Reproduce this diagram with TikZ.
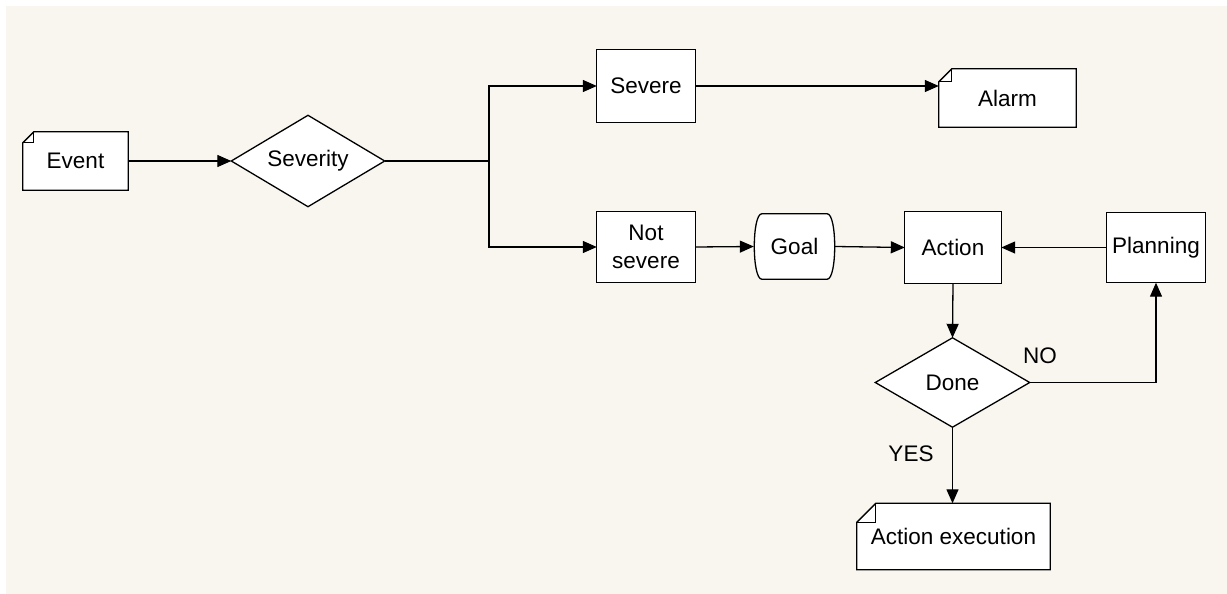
\documentclass[tikz,border=0pt]{standalone}
\usepackage{fontspec}
\setmainfont{Liberation Sans}
\usetikzlibrary{arrows.meta}
\pgfdeclarelayer{bg}
\pgfdeclarelayer{shapes}
\pgfsetlayers{bg,shapes,main}
\definecolor{paper}{HTML}{F9F6F0}
\tikzset{
  outline/.style={draw=black, line width=1.3pt, fill=white, line join=miter},
  txt/.style={font=\fontsize{22.5}{28}\selectfont, align=center, inner sep=0pt, text=black},
  box/.style={txt, rectangle, draw=none},
  wire/.style={draw=black, line width=1.3pt},
  arrow/.style={wire, -{Triangle[length=14pt,width=12pt]}},
  lbl/.style={font=\fontsize{22.5}{26}\selectfont, inner sep=0pt},
}
% box with the top-left corner folded over
\newcommand\drawnote[2]{%
  \begin{pgfonlayer}{shapes}
    \path[outline] ([xshift=#2]#1.north west) -- (#1.north east) -- (#1.south east)
      -- (#1.south west) -- ([yshift=-#2]#1.north west) -- cycle;
    \draw[outline, fill=none] ([yshift=-#2]#1.north west) -- ([xshift=#2,yshift=-#2]#1.north west)
      -- ([xshift=#2]#1.north west);
  \end{pgfonlayer}}
% plain rectangle
\newcommand\drawrect[1]{%
  \begin{pgfonlayer}{shapes}
    \path[outline] (#1.north west) rectangle (#1.south east);
  \end{pgfonlayer}}
% decision diamond
\newcommand\drawdiamond[1]{%
  \begin{pgfonlayer}{shapes}
    \path[outline] (#1.west) -- (#1.north) -- (#1.east) -- (#1.south) -- cycle;
  \end{pgfonlayer}}
% flat top and bottom, bulging sides
\newcommand\drawgoal[2]{%
  \begin{pgfonlayer}{shapes}
    \path[outline] ([xshift=#2]#1.north west) -- ([xshift=-#2]#1.north east)
      .. controls ([xshift=#2*0.25]#1.north east) and ([xshift=#2*0.25]#1.south east) .. ([xshift=-#2]#1.south east)
      -- ([xshift=#2]#1.south west)
      .. controls ([xshift=-#2*0.25]#1.south west) and ([xshift=-#2*0.25]#1.north west) .. ([xshift=#2]#1.north west)
      -- cycle;
  \end{pgfonlayer}}
\begin{document}
\begin{tikzpicture}[x=1pt, y=-1pt]
  \useasboundingbox (0,0) rectangle (1227,594);
  \begin{pgfonlayer}{bg}
    \fill[white] (0,0) rectangle (1227,594);
    \fill[paper] (6,6) rectangle (1227,594);
  \end{pgfonlayer}

  \node[box, minimum width=105pt, minimum height=58pt] (event) at (75.5,161) {Event};
  \drawnote{event}{11pt}
  \node[box, minimum width=153pt, minimum height=91pt] (severity) at (308,161) {Severity};
  \drawdiamond{severity}
  \node[box, minimum width=98pt, minimum height=73pt] (severe) at (646,86) {Severe};
  \drawrect{severe}
  \node[box, minimum width=137pt, minimum height=58pt] (alarm) at (1007.5,98) {Alarm};
  \drawnote{alarm}{13pt}
  \node[box, minimum width=98pt, minimum height=70pt] (notsevere) at (646,247) {Not\\severe};
  \drawrect{notsevere}
  \node[box, minimum width=81pt, minimum height=65pt] (goal) at (794.5,246.5) {Goal};
  \drawgoal{goal}{8pt}
  \node[box, minimum width=96pt, minimum height=71pt] (action) at (953,247.5) {Action};
  \drawrect{action}
  \node[box, minimum width=98pt, minimum height=70pt] (planning) at (1156,247.5) {Planning};
  \drawrect{planning}
  \node[box, minimum width=154pt, minimum height=89pt] (done) at (952.5,382.5) {Done};
  \drawdiamond{done}
  \node[box, minimum width=193pt, minimum height=66pt] (actexec) at (953.5,536.5) {Action execution};
  \drawnote{actexec}{19pt}

  \coordinate (fork) at (489,161);
  \draw[arrow] (event.east) -- (severity.west);
  \draw[wire] (severity.east) -- (fork);
  \draw[arrow] (fork) |- (severe.west);
  \draw[arrow] (fork) |- (notsevere.west);
  \draw[arrow] (severe.east) -- (severe.east -| alarm.west);
  \draw[arrow] (notsevere.east) -- (goal.west);
  \draw[arrow] (goal.east) -- (action.west);
  \draw[arrow] (planning.west) -- (action.east);
  \draw[arrow] (action.south) -- (done.north);
  \draw[arrow] (done.east) -| (planning.south);
  \draw[arrow] (done.south) -- (done.south |- actexec.north);

  \node[lbl] (no) at (1040,356) {NO};
  \node[lbl] (yes) at (911,454) {YES};
\end{tikzpicture}
\end{document}
